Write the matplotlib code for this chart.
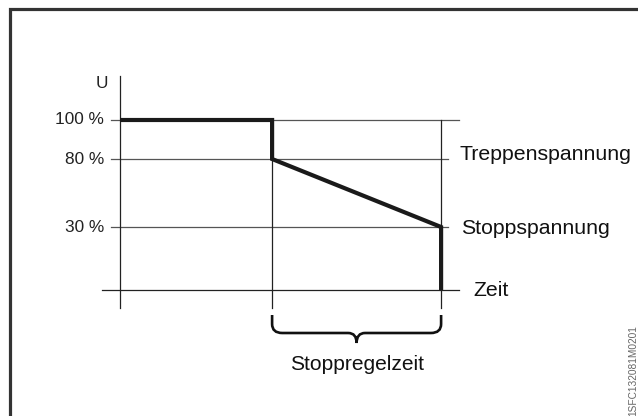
import numpy as np
import matplotlib.pyplot as plt
from matplotlib.path import Path
from matplotlib.patches import PathPatch
from matplotlib import transforms

plt.rcParams['font.family'] = ['Liberation Sans', 'DejaVu Sans']

# Spannungsstufen in % von U und schematische Zeitpunkte
levels = [100, 80, 30]
level_labels = ['100 %', '80 %', '30 %']
t_step = 4.5    # Sprung auf Treppenspannung
t_stop = 9.5    # Stoppspannung erreicht
curve_t = [0, t_step, t_step, t_stop, t_stop]
curve_u = [100, 100, 80, 30, 0]
right_labels = ['Treppenspannung', 'Stoppspannung', 'Zeit']
right_label_u = [80, 30, 0]
span_label = 'Stoppregelzeit'
doc_id = '1SFC132081M0201'

# schematische (nicht lineare) U-Achse
pct_pts = [-100, 0, 30, 80, 100, 200]
pix_pts = [-84, 126, 189, 257, 296, 491]


def fwd(v):
    return np.interp(v, pct_pts, pix_pts)


def inv(p):
    return np.interp(p, pix_pts, pct_pts)


fig = plt.figure(figsize=(6.38, 4.16), dpi=100)
ax = fig.add_axes([0, 0, 1, 1])
ax.set_yscale('function', functions=(fwd, inv))
k = 33.8
ax.set_xlim(-120 / k, 518 / k)
ax.set_ylim(inv(0), inv(416))
ax.axis('off')

# Overlay in Pixelkoordinaten fuer Rahmen und Klammer
ov = fig.add_axes([0, 0, 1, 1], facecolor='none')
ov.set_xlim(0, 638)
ov.set_ylim(416, 0)
ov.axis('off')

# Rahmen (rechts und unten abgeschnitten)
ov.plot([9.5, 9.5, 645], [425, 8.5, 8.5], color='#333333', lw=2.3,
        solid_joinstyle='miter')

# Hilfslinien
ax.plot([-0.27, 10.03], [100, 100], color='#555555', lw=0.9)
ax.plot([-0.27, 9.70], [80, 80], color='#555555', lw=0.9)
ax.plot([-0.27, 9.70], [30, 30], color='#555555', lw=0.9)
ax.plot([-0.53, 10.03], [0, 0], color='#222222', lw=0.9)
ax.plot([0, 0], [122.6, -8.6], color='#222222', lw=0.9)
ax.plot([t_step, t_step], [100, -8.6], color='#222222', lw=0.9)
ax.plot([t_stop, t_stop], [100, -8.6], color='#222222', lw=0.9)

# Spannungsverlauf
ax.plot(curve_t, curve_u, color='#1a1a1a', lw=3.0,
        solid_joinstyle='miter', solid_capstyle='butt')

# Beschriftungen links
for u, lab in zip(levels, level_labels):
    ax.text(-0.47, u, lab, ha='right', va='center', fontsize=12.4,
            color='#222222')
ax.text(-0.36, 118.5, 'U', ha='right', va='center', fontsize=12.4,
        color='#222222')

# Beschriftungen rechts
offsets = [(459, 4), (461, -2), (473, -1)]
for lab, u, (px, dy) in zip(right_labels, right_label_u, offsets):
    ax.annotate(lab, xy=((px - 120) / k, u), xytext=(0, dy),
                textcoords='offset pixels', ha='left', va='center',
                fontsize=15.3, color='#111111')

# geschweifte Klammer unter der Stoppregelzeit
tr = transforms.blended_transform_factory(ax.transData, ov.transData)
x0, x1 = t_step, t_stop
xm = (x0 + x1) / 2
r = 0.3
yt, yh, yp = 315, 333, 343
verts = [(x0, yt), (x0, yh - 9), (x0, yh), (x0 + r, yh),
         (xm - 0.25, yh), (xm, yh), (xm, yp),
         (xm, yh), (xm + 0.25, yh),
         (x1 - r, yh), (x1, yh), (x1, yh - 9), (x1, yt)]
codes = [Path.MOVETO, Path.LINETO, Path.CURVE3, Path.CURVE3,
         Path.LINETO, Path.CURVE3, Path.CURVE3,
         Path.CURVE3, Path.CURVE3,
         Path.LINETO, Path.CURVE3, Path.CURVE3, Path.LINETO]
brace = PathPatch(Path(verts, codes), transform=tr, facecolor='none',
                  edgecolor='#111111', lw=1.9, capstyle='butt')
ov.add_patch(brace)
ax.text(xm, 364, span_label, transform=tr, ha='center', va='center',
        fontsize=15.1, color='#111111')

# Dokumentnummer
ov.text(633, 371, doc_id, rotation=90, ha='center', va='center',
        fontsize=7.3, color='#666666')

fig.savefig('out.png', dpi=100)
